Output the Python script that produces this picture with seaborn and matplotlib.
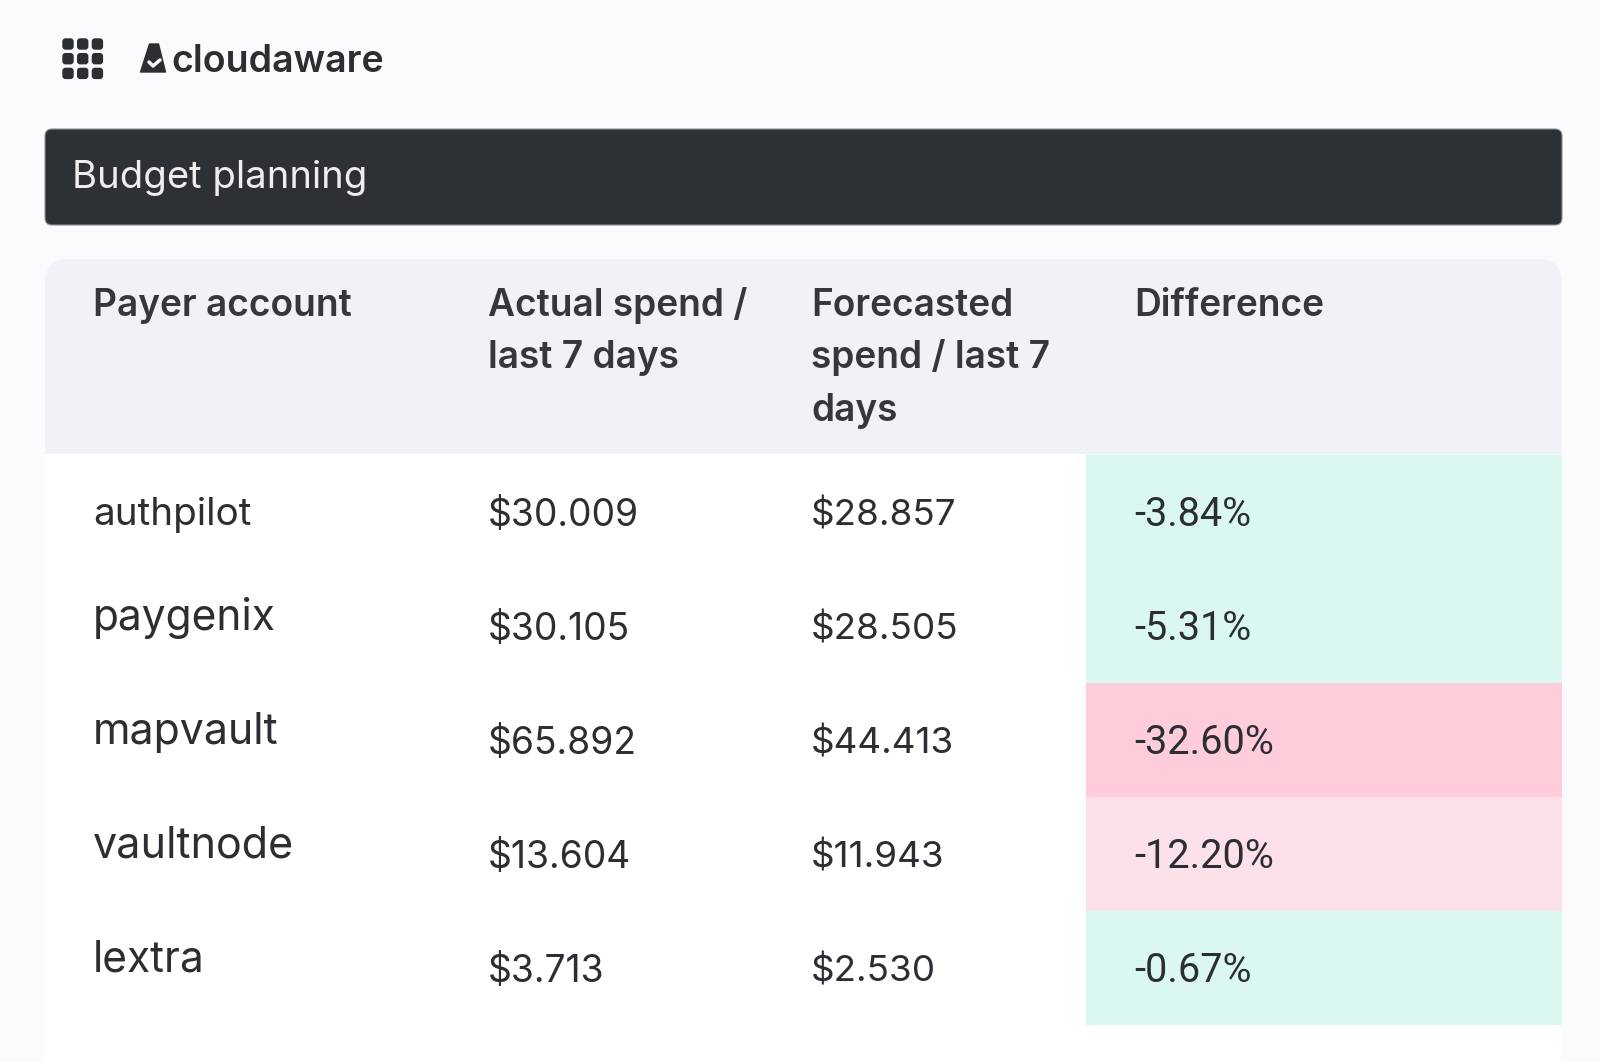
import numpy as np
import pandas as pd
import matplotlib
matplotlib.use('Agg')
import matplotlib.pyplot as plt
import seaborn as sns
from matplotlib.colors import ListedColormap, BoundaryNorm
from matplotlib.patches import FancyBboxPatch, Rectangle, Polygon

# Table data
accounts = ['authpilot', 'paygenix', 'mapvault', 'vaultnode', 'lextra']
actual_spend = ['$30.009', '$30.105', '$65.892', '$13.604', '$3.713']
forecast_spend = ['$28.857', '$28.505', '$44.413', '$11.943', '$2.530']
difference = [-3.84, -5.31, -32.60, -12.20, -0.67]
headers = ['Payer account', 'Actual spend /\nlast 7 days', 'Forecasted\nspend / last 7\ndays', 'Difference']
page_title = 'Budget planning'
brand = 'cloudaware'

W, H = 1600, 1062
INK = '#2B2E33'

sns.set_theme(style='white')
plt.rcParams['font.family'] = ['Inter', 'DejaVu Sans']

fig = plt.figure(figsize=(W / 100, H / 100), dpi=100, facecolor='#FBFBFD')

# page layer in pixel coordinates
ax = fig.add_axes([0, 0, 1, 1], zorder=1)
ax.set_xlim(0, W)
ax.set_ylim(H, 0)
ax.axis('off')

# app launcher dots
for gx in np.arange(3):
    for gy in np.arange(3):
        ax.add_patch(FancyBboxPatch((63 + gx * 14.7, 39 + gy * 14.7), 10, 10,
                                    boxstyle='round,pad=0,rounding_size=2.5', fc=INK, ec=INK, lw=1))

# logo mark
ax.add_patch(Polygon([[140.5, 72], [149.5, 44], [158.5, 44], [165.5, 72]], closed=True, fc=INK, ec=INK, lw=1, joinstyle='round'))
ax.plot([149, 153, 160], [62, 66, 60], color='#FBFBFD', lw=2.5)
ax.text(171, 72, brand, fontsize=27, fontweight='semibold', color=INK, va='baseline', ha='left')

# title bar
ax.add_patch(FancyBboxPatch((45, 129), 1517, 96, boxstyle='round,pad=0,rounding_size=7', fc='#2D3035', ec='#8E9094', lw=0.8))
ax.text(72, 188.5, page_title, fontsize=27.5, color='#F1EDEF', va='baseline', ha='left')

# table card
ax.add_patch(FancyBboxPatch((45, 259), 1517, 230, boxstyle='round,pad=0,rounding_size=24', fc='#F1F2F7', ec='none'))
ax.add_patch(Rectangle((45, 454), 1517, H - 454, fc='white', ec='none'))

# header row
col_x = [93, 488, 811, 1134]
for x, label in zip(col_x, headers):
    for i, line in enumerate(label.split('\n')):
        ax.text(x, 316 + i * 52.5, line, fontsize=26.7, fontweight='semibold', color='#34373C', va='baseline', ha='left')

# difference cells
hm = fig.add_axes([1086 / W, 1 - 1025 / H, (1562 - 1086) / W, (1025 - 455) / H], zorder=2)
diff_df = pd.DataFrame({'difference': difference}, index=accounts)
cell_cmap = ListedColormap(['#FFCDDA', '#FCE0EA', '#DBF7F1'])
sns.heatmap(diff_df, ax=hm, cmap=cell_cmap, norm=BoundaryNorm([-100, -20, -10, 0], 3),
            cbar=False, xticklabels=False, yticklabels=False)
hm.set_xlabel('')
hm.set_ylabel('')

# body text
top = fig.add_axes([0, 0, 1, 1], zorder=3)
top.set_xlim(0, W)
top.set_ylim(H, 0)
top.axis('off')
row_y = [525.5, 639.5, 753.5, 867.5, 981.5]
name_y = [525, 630, 744, 858, 972]
name_size = [27.8, 30.6, 30.9, 31, 30.5]
for i in range(len(accounts)):
    top.text(col_x[0], name_y[i], accounts[i], fontsize=name_size[i], color=INK, va='baseline', ha='left')
    top.text(col_x[1], row_y[i], actual_spend[i], fontsize=26.8, color=INK, va='baseline', ha='left')
    top.text(col_x[2], row_y[i], forecast_spend[i], fontsize=26.5, color=INK, va='baseline', ha='left')
    top.text(col_x[3], row_y[i], f'{difference[i]:.2f}%', fontsize=28.5, family='Roboto', color=INK, va='baseline', ha='left')

fig.savefig('out.png', dpi=100, facecolor=fig.get_facecolor())
